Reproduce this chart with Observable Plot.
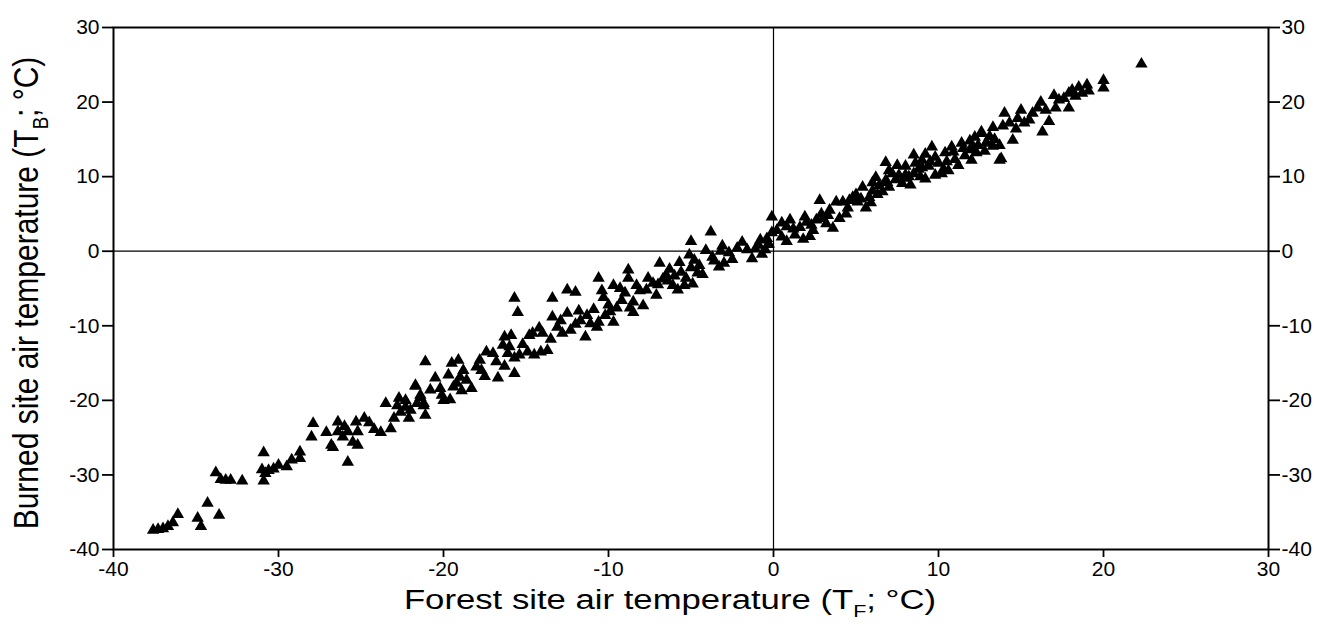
<!DOCTYPE html>
<html><head><meta charset="utf-8">
<script src="https://cdn.jsdelivr.net/npm/d3@7"></script>
<script src="https://cdn.jsdelivr.net/npm/@observablehq/plot@0.6"></script>
<style>
body{margin:0;background:#fff}
svg{font-family:"Liberation Sans",Arial,Helvetica,sans-serif}
</style>
</head><body><div id="chart"></div>
<script>
const xTicks = [-40, -30, -20, -10, 0, 10, 20, 30];
const yTicks = [-40, -30, -20, -10, 0, 10, 20, 30];
const xTitle = ["Forest site air temperature (T", "F", "; °C)"];
const yTitle = ["Burned site air temperature (T", "B", "; °C)"];

// [forest site T_F, burned site T_B] in °C
const coldest = [
[-37.6,-37.4],[-37.3,-37.3],[-37.0,-37.2],[-36.7,-36.9],[-36.4,-36.4],[-36.1,-35.3],
[-34.9,-35.8],[-34.7,-36.9],[-34.3,-33.8],[-33.6,-35.4],
[-33.8,-29.7],[-33.5,-30.6],[-33.2,-30.7],[-32.9,-30.7],[-32.2,-30.8],
[-30.9,-27.0],[-31.0,-29.3],[-30.8,-29.8],[-30.6,-29.4],[-30.3,-29.2],[-30.0,-28.7],[-30.9,-30.8],
[-29.5,-28.9],[-29.2,-28.0],[-28.7,-26.9],[-28.7,-27.8],
[-27.9,-23.1],[-28.0,-24.9],[-27.1,-24.3],[-26.8,-26.0],[-26.7,-26.3],[-26.4,-22.9],[-26.4,-24.2],
[-26.1,-24.9],[-25.8,-28.3],[-25.8,-24.2],[-25.5,-25.6],[-25.3,-22.9],[-25.2,-24.2],[-25.2,-26.0],
[-24.8,-22.4],[-24.2,-23.9],[-23.8,-24.3],[-23.5,-20.4],[-23.2,-23.8],[-23.0,-22.4],[-22.7,-19.7],
[-22.6,-21.6],[-22.3,-20.9],[-22.1,-22.4],[-21.7,-18.1],[-21.6,-20.4],[-21.4,-19.6],[-21.2,-20.4],
[-21.1,-22.0],[-22.3,-20.0],[-22.0,-21.3],[-21.2,-20.7],[-22.8,-20.7],[-24.5,-23.0],[-26.0,-23.5]
];
const cold = [
[-21.1,-14.8],[-21.7,-18.0],[-21.4,-19.3],[-20.8,-18.6],
[-20.5,-17.0],[-20.1,-19.3],[-19.5,-15.0],[-19.1,-14.6],[-19.7,-16.6],[-19.4,-18.2],[-18.8,-16.0],
[-18.6,-17.3],[-18.3,-18.4],[-20.0,-20.0],[-19.6,-19.9],[-18.9,-18.7],[-20.2,-18.4],[-19.2,-17.7],
[-19.0,-16.9],[-18.0,-15.5],
[-17.8,-14.6],[-17.4,-13.5],[-17.0,-13.7],[-17.7,-16.0],[-17.5,-16.8],[-16.7,-17.0],[-16.8,-14.8],
[-16.3,-11.5],[-15.9,-11.3],[-16.4,-12.6],[-16.1,-13.7],[-15.7,-14.3],[-15.7,-16.4],[-16.3,-15.4],
[-16.0,-12.8],[-15.4,-13.9],[-15.7,-6.3],[-15.5,-8.2],[-15.2,-12.5],
[-14.9,-13.5],[-14.5,-13.9],[-14.1,-13.5],[-14.6,-11.0],[-14.8,-11.3],[-14.0,-11.0],[-14.2,-10.3],[-13.7,-13.3],
[-13.1,-10.2],[-12.8,-11.0],[-12.3,-10.6],[-11.4,-11.5],[-10.7,-10.2],[-13.5,-11.8],[-12.0,-9.8],
[-13.4,-6.3],[-13.4,-8.8],[-12.9,-9.3],[-12.5,-8.3],[-12.5,-5.2],[-12.0,-5.5],[-11.7,-9.3],[-11.3,-8.6],
[-11.1,-9.7],[-11.8,-8.0]
];
const cool = [
[-10.6,-3.6],[-9.7,-4.6],[-10.3,-6.2],[-10.0,-7.2],[-10.2,-8.6],[-9.7,-9.5],[-9.5,-7.6],[-10.6,-9.5],
[-10.9,-7.8],[-10.4,-5.3],[-9.3,-5.0],
[-8.8,-2.5],[-8.8,-3.6],[-9.0,-5.6],[-8.5,-6.8],[-8.3,-4.6],[-8.1,-5.3],[-7.6,-3.6],[-7.7,-5.2],
[-8.5,-8.2],[-7.9,-7.3],[-7.1,-5.9],[-8.7,-7.6],[-9.2,-6.6],[-9.9,-8.1],[-7.3,-4.3],[-7.0,-4.5],[-6.4,-4.0],
[-6.9,-1.6],[-6.5,-3.2],[-6.7,-3.7],[-6.1,-4.6],[-5.7,-1.5],[-5.6,-2.8],[-5.8,-5.2],[-5.3,-3.6],
[-5.1,-0.5],[-5.0,-2.2],[-4.6,-2.9],[-4.5,-1.9],[-4.3,-3.1],[-4.9,-4.4],[-5.4,-4.6],[-6.3,-2.4],[-6.0,-3.3],
[-5.0,1.3],[-3.8,2.6],[-4.8,-1.2],[-3.6,-1.3],
[-4.1,0.1],[-3.7,-0.8],[-3.2,0.0],[-3.3,-2.1],[-3.0,-1.6],[-2.7,-0.2],[-2.5,-1.1],[-3.1,0.7],
[-1.9,1.2],[-1.3,-1.0],[-1.6,0.2],[-0.9,0.8],[-0.4,1.7],[-0.1,2.5],[-0.7,-0.4],[-2.2,0.4],[-1.1,0.3],
[-0.3,0.9],[-0.8,1.5],[-0.5,0.2]
];
const mild = [
[-0.1,4.6],[0.2,2.8],[0.5,1.9],[-0.3,1.0],[0.8,3.3],[1.0,4.2],[1.8,1.6],[2.2,2.0],[0.8,1.3],
[0.5,3.8],[1.2,3.0],[2.6,4.2],[3.3,4.8],[4.4,5.0],[4.6,6.8],[5.3,7.0],[5.9,6.5],[6.3,7.6],
[1.6,3.2],[1.9,4.6],[2.4,2.8],[2.8,6.8],[2.9,5.0],[3.2,3.7],[3.4,5.5],[2.3,3.5],[1.3,2.2],[3.6,3.1],
[3.8,6.6],[4.2,6.6],[4.0,4.4],[3.0,4.4],[2.0,3.9],[4.5,5.8],
[4.8,7.2],[5.4,8.6],[5.6,5.8],[5.8,7.2],[6.2,9.9],[6.0,8.1],[6.4,8.8],[5.1,6.6],[5.0,7.6],[6.6,8.0],[6.0,9.2],
[6.8,11.9],[6.8,9.5],[7.2,10.4],[7.5,11.5],[7.0,8.6],[7.8,9.1],[8.2,10.0],[8.0,11.4],[8.5,12.9],
[8.5,10.4],[8.3,8.9],[7.4,9.6],[7.0,10.8],[8.0,10.2],[7.6,10.2],[7.9,9.8],[6.9,9.2],[8.9,10.0],
[9.0,12.2],[9.6,14.0],[9.4,11.4],[9.8,12.6],[10.2,10.4],[10.6,10.8],[10.8,14.0],[11.0,12.3],[9.8,10.2],
[9.2,9.7],[8.8,11.0],[9.2,13.0],[10.0,11.8],[10.4,13.2],[11.2,11.5],[11.6,12.8],[12.0,12.2],[10.5,12.0],[9.0,11.2],
[8.6,11.8],[9.5,12.0],[10.3,11.0],[10.9,13.3],[11.5,13.8],[12.4,14.2],[12.1,13.9],
[11.4,14.5],[11.9,14.8],[11.9,13.6],[12.3,13.2],[12.6,15.8],[12.9,14.5],[13.3,14.1],[13.7,12.2],[13.1,15.4],
[12.8,13.4],[12.2,15.3],[13.4,15.0],[13.8,12.4],[13.7,14.2]
];
const warm = [
[12.6,16.0],[12.9,14.6],[13.3,16.6],[13.9,16.8],
[14.0,18.5],[14.3,17.2],[14.7,16.4],[15.0,18.9],[14.5,14.9],[15.2,17.2],[14.8,17.8],[15.5,17.6],
[15.7,18.5],[16.2,20.0],[16.3,16.0],[16.5,18.9],[17.0,20.9],[17.3,20.3],[17.1,19.2],[17.9,19.2],
[17.9,21.2],[16.7,17.4],[16.0,19.2],[17.6,20.5],[18.3,20.8],
[18.1,21.6],[18.5,22.0],[18.7,21.2],[19.0,22.3],[19.1,21.5],
[20.0,22.9],[20.0,21.9],
[22.3,25.1]
];

const data = [...coldest, ...cold, ...cool, ...mild, ...warm]
  .map(([forest, burned]) => ({forest, burned}));
const fmt = d => String(d);

const plot = Plot.plot({
  width: 1330, height: 627,
  marginLeft: 113, marginRight: 62, marginTop: 27, marginBottom: 78,
  style: {fontFamily: '"Liberation Sans", Arial, Helvetica, sans-serif', fontSize: "21px", color: "#000", background: "#fff"},
  x: {domain: [-40, 30]},
  y: {domain: [-40, 30]},
  marks: [
    Plot.ruleX([0], {strokeWidth: 1.2}),
    Plot.ruleY([0], {strokeWidth: 1.2}),
    Plot.frame({strokeWidth: 2}),
    Plot.axisX({ticks: xTicks, tickFormat: fmt, tickSize: 8, tickPadding: 4, strokeWidth: 1.8, label: null}),
    Plot.axisY({anchor: "left", ticks: yTicks, tickFormat: fmt, tickSize: 11, tickPadding: 3, strokeWidth: 1.8, label: null}),
    Plot.axisY({anchor: "right", ticks: yTicks, tickFormat: fmt, tickSize: 11, tickPadding: 2, strokeWidth: 1.8, label: null}),
    Plot.dot(data, {x: "forest", y: "burned", symbol: "triangle", r: 4.6, fill: "#000", stroke: "none"})
  ]
});

const svg = d3.select(plot);
function addTitle(parts, transform, size) {
  const t = svg.append("text")
    .attr("transform", transform)
    .attr("text-anchor", "middle")
    .attr("font-size", size)
    .attr("fill", "#000");
  t.append("tspan").text(parts[0]);
  t.append("tspan").attr("dy", size * 0.28).attr("font-size", size * 0.62).text(parts[1]);
  t.append("tspan").attr("dy", -size * 0.28).text(parts[2]);
}
addTitle(xTitle, "translate(670,609) scale(1.24,1)", 28);
addTitle(yTitle, "translate(38,293) rotate(-90) scale(1,1.15)", 30);

document.getElementById("chart").appendChild(plot);
</script>
</body></html>
